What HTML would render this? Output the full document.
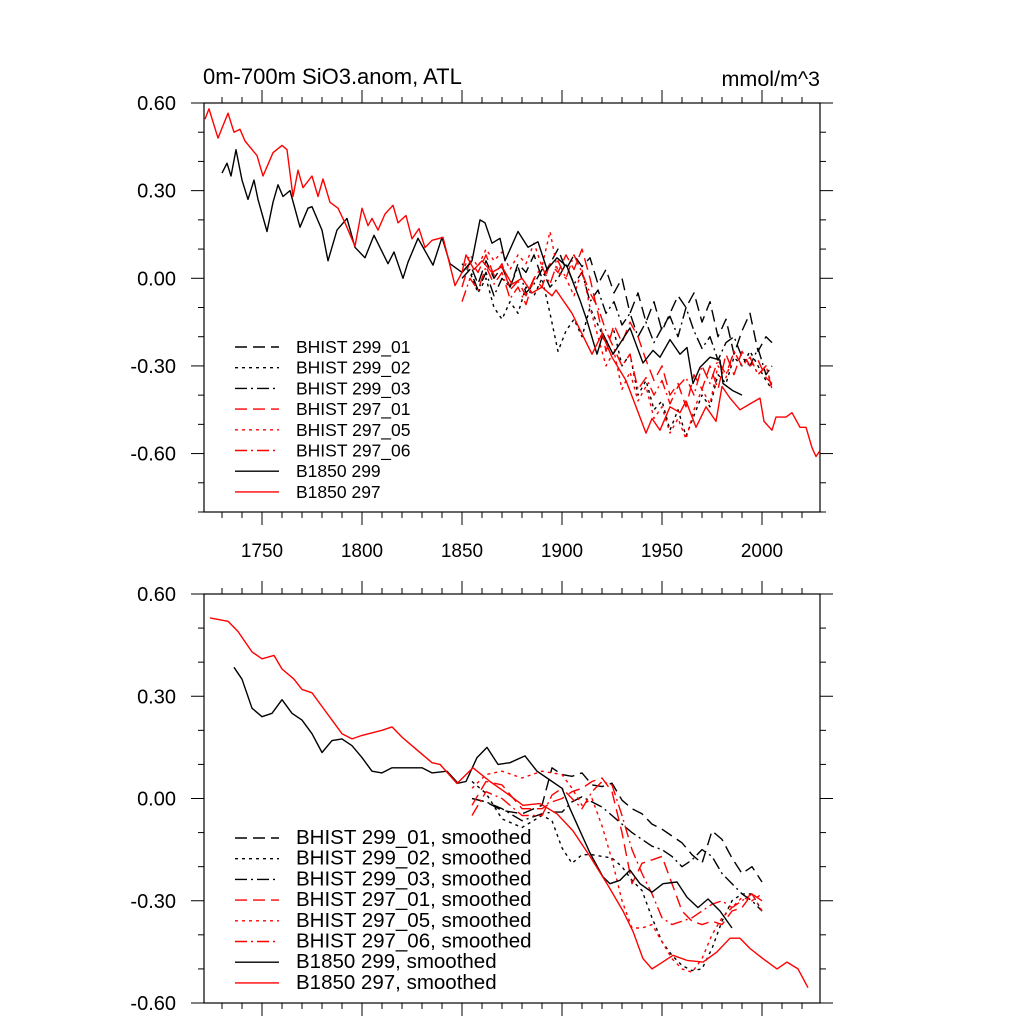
<!DOCTYPE html>
<html><head><meta charset="utf-8"><style>
html,body{margin:0;padding:0;background:#fff;}
svg{display:block;font-family:"Liberation Sans",sans-serif;}
</style></head><body>
<svg id="chart" width="1024" height="1024" xmlns="http://www.w3.org/2000/svg">
<text x="203" y="84" font-size="22">0m-700m SiO3.anom, ATL</text>
<text x="820" y="86" font-size="21.5" text-anchor="end">mmol/m^3</text>
<g id="top"></g>
<g id="bot"></g>
</svg>
<script>
// ---- data ----
const b297Years=[1721.5,1723.5,1728,1733,1736,1739,1741.5,1747.5,1750.5,1755.5,1760,1762.5,1765.5,1768,1770.5,1775,1778,1780.5,1784,1788,1791.5,1796.5,1800,1803,1805,1808,1811.5,1815.5,1818,1822,1825,1828.5,1831.5,1835,1840.5,1846.5,1850,1852,1856,1860,1865,1870,1875,1880,1885,1890,1895,1897,1905,1910,1915,1920,1925,1932,1937,1942,1945,1949,1954,1959,1962,1967,1972,1977,1980,1984,1989,1994,1999,2001,2005,2007,2012,2015,2019,2022,2025,2027,2029];
const b297Vals=[0.545,0.58,0.48,0.565,0.50,0.51,0.47,0.42,0.35,0.43,0.455,0.44,0.28,0.37,0.31,0.35,0.28,0.34,0.26,0.24,0.19,0.11,0.24,0.18,0.205,0.165,0.22,0.25,0.19,0.215,0.135,0.17,0.105,0.13,0.14,-0.025,0.02,0.08,0.03,0.06,0.02,0.04,-0.02,0.0,-0.05,-0.03,-0.06,-0.04,-0.12,-0.19,-0.26,-0.19,-0.27,-0.35,-0.44,-0.53,-0.48,-0.52,-0.44,-0.46,-0.42,-0.51,-0.44,-0.49,-0.37,-0.41,-0.45,-0.43,-0.41,-0.49,-0.52,-0.475,-0.475,-0.46,-0.51,-0.51,-0.58,-0.61,-0.59];
const b299Years=[1730,1732.5,1734.5,1737,1740,1743,1746,1748,1752.5,1755.5,1758,1760.5,1764,1769,1773,1775,1780,1783,1787.5,1792.5,1796.5,1801.5,1806,1813,1816,1820.5,1823,1828,1835.5,1840,1844,1850,1855,1859,1861.5,1865,1869,1871.5,1878,1883,1888,1892.5,1897.5,1902.5,1909,1912.5,1917.5,1920.5,1925.5,1934,1940.5,1945.5,1949,1954,1959,1962.5,1965.5,1969,1974,1979,1980.5,1985.5,1990];
const b299Vals=[0.36,0.394,0.35,0.44,0.336,0.27,0.336,0.27,0.16,0.26,0.32,0.28,0.30,0.175,0.24,0.245,0.165,0.06,0.165,0.205,0.106,0.07,0.147,0.05,0.09,0.0,0.055,0.137,0.045,0.14,0.05,0.02,0.06,0.2,0.19,0.12,0.137,0.06,0.16,0.106,0.125,0.03,0.07,0.04,-0.075,-0.145,-0.26,-0.19,-0.26,-0.17,-0.29,-0.247,-0.27,-0.21,-0.26,-0.237,-0.36,-0.305,-0.27,-0.28,-0.36,-0.385,-0.40];
const histYears=[1850,1854,1858,1862,1866,1870,1874,1878,1882,1886,1890,1894,1898,1902,1906,1910,1914,1918,1922,1926,1930,1934,1938,1942,1946,1950,1954,1958,1962,1966,1970,1974,1978,1982,1986,1990,1994,1998,2002,2005];
const h299_01=[0.02,0.05,-0.02,0.06,0.0,0.04,-0.03,0.05,0.02,0.08,0.0,0.05,0.10,0.03,0.08,0.04,0.07,-0.02,0.03,-0.05,0.0,-0.12,-0.05,-0.15,-0.08,-0.18,-0.12,-0.06,-0.10,-0.05,-0.15,-0.08,-0.20,-0.14,-0.26,-0.18,-0.12,-0.25,-0.20,-0.22];
const h299_02=[0.05,0.02,-0.05,0.0,-0.10,-0.14,-0.08,-0.12,-0.03,-0.06,0.0,-0.12,-0.25,-0.18,-0.14,-0.20,-0.10,-0.16,-0.22,-0.18,-0.30,-0.26,-0.40,-0.35,-0.45,-0.42,-0.52,-0.45,-0.54,-0.47,-0.40,-0.44,-0.33,-0.36,-0.27,-0.30,-0.25,-0.30,-0.35,-0.38];
const h299_03=[0.0,0.03,-0.04,0.02,-0.06,0.0,-0.03,0.04,-0.05,-0.02,0.03,-0.03,0.0,0.05,-0.02,0.02,-0.08,-0.04,-0.12,-0.08,-0.16,-0.12,-0.20,-0.15,-0.22,-0.17,-0.13,-0.20,-0.10,-0.18,-0.24,-0.20,-0.28,-0.22,-0.20,-0.27,-0.30,-0.24,-0.33,-0.30];
const h297_01=[-0.03,0.06,0.02,0.08,0.01,0.05,-0.04,-0.01,-0.06,0.0,-0.03,0.05,0.02,0.08,0.03,0.10,0.0,-0.12,-0.25,-0.16,-0.22,-0.15,-0.20,-0.28,-0.35,-0.30,-0.40,-0.36,-0.44,-0.33,-0.38,-0.30,-0.38,-0.26,-0.33,-0.25,-0.30,-0.28,-0.34,-0.36];
const h297_05=[0.02,0.08,0.04,0.10,0.06,0.09,0.03,0.08,0.05,0.12,0.04,0.16,0.02,0.0,-0.06,0.03,-0.10,-0.20,-0.30,-0.25,-0.38,-0.32,-0.42,-0.37,-0.48,-0.44,-0.53,-0.48,-0.55,-0.45,-0.38,-0.43,-0.30,-0.34,-0.25,-0.30,-0.27,-0.33,-0.30,-0.37];
const h297_06=[-0.08,0.0,-0.04,0.04,-0.02,0.02,-0.07,-0.03,-0.09,0.0,0.04,-0.02,0.06,0.0,0.08,0.02,-0.05,-0.10,-0.18,-0.24,-0.30,-0.26,-0.38,-0.34,-0.40,-0.35,-0.43,-0.37,-0.34,-0.40,-0.30,-0.36,-0.28,-0.33,-0.25,-0.30,-0.27,-0.33,-0.30,-0.38];
// smoothed
const s297Years=[1724,1733,1738,1745,1750,1756,1760,1766,1770,1775,1780,1785,1790,1795,1800,1810,1815,1820,1825,1830,1835,1839,1847.5,1855.5,1864,1872.5,1880.5,1889,1897.5,1905.5,1914,1922.5,1930.5,1935.5,1940.5,1945,1949,1955.5,1962.5,1970.5,1977.5,1984,1989,1994,2000.5,2007.5,2012.5,2018,2023];
const s297Vals=[0.53,0.52,0.49,0.43,0.41,0.42,0.38,0.35,0.32,0.31,0.27,0.23,0.19,0.175,0.185,0.20,0.21,0.18,0.155,0.13,0.105,0.10,0.044,0.09,0.05,0.015,-0.02,-0.015,-0.045,-0.095,-0.17,-0.25,-0.33,-0.39,-0.47,-0.50,-0.485,-0.46,-0.475,-0.48,-0.45,-0.41,-0.41,-0.44,-0.47,-0.50,-0.48,-0.50,-0.555];
const s299Years=[1736,1740,1745,1750,1755,1760,1765,1770,1775,1780,1785,1790,1795,1800,1805,1810,1815,1820,1830,1835,1842.5,1848,1852,1857.5,1862.5,1868,1874,1881.5,1887.5,1892.5,1900,1904,1909,1914,1920.5,1924,1929,1934,1939,1945,1950.5,1957.5,1962.5,1968,1973,1979,1985];
const s299Vals=[0.385,0.35,0.265,0.24,0.25,0.29,0.25,0.23,0.19,0.135,0.17,0.175,0.155,0.12,0.08,0.075,0.09,0.09,0.09,0.075,0.08,0.045,0.05,0.12,0.15,0.10,0.105,0.125,0.08,0.06,0.03,-0.03,-0.095,-0.16,-0.23,-0.25,-0.24,-0.21,-0.25,-0.275,-0.25,-0.245,-0.29,-0.32,-0.295,-0.33,-0.38];
const sYears=[1855,1862,1870,1880,1890,1895,1900,1905,1910,1915,1920,1925,1930,1935,1940,1945,1950,1955,1960,1965,1970,1975,1980,1985,1990,1995,2000];
const s299_01=[0.0,-0.01,-0.035,-0.045,-0.02,0.09,0.07,0.065,0.075,0.04,0.035,0.045,-0.005,-0.03,-0.045,-0.075,-0.09,-0.11,-0.13,-0.165,-0.19,-0.095,-0.12,-0.175,-0.22,-0.20,-0.245];
const s299_02=[0.05,0.015,-0.06,-0.085,-0.05,-0.065,-0.145,-0.19,-0.165,-0.165,-0.17,-0.175,-0.2,-0.24,-0.27,-0.35,-0.42,-0.46,-0.49,-0.505,-0.5,-0.44,-0.36,-0.3,-0.28,-0.28,-0.33];
const s299_03=[0.0,-0.01,-0.03,-0.065,-0.045,-0.04,-0.04,-0.01,0.005,-0.01,-0.025,-0.05,-0.075,-0.1,-0.12,-0.14,-0.15,-0.17,-0.2,-0.18,-0.15,-0.17,-0.22,-0.25,-0.28,-0.30,-0.33];
const s297_01=[-0.02,0.05,0.04,-0.03,-0.03,-0.01,0.0,0.02,0.03,0.05,0.06,0.02,-0.1,-0.25,-0.19,-0.18,-0.17,-0.25,-0.33,-0.36,-0.37,-0.36,-0.37,-0.33,-0.32,-0.28,-0.30];
const s297_05=[0.03,0.07,0.08,0.06,0.08,0.075,0.07,0.03,-0.02,0.0,-0.08,-0.18,-0.3,-0.38,-0.38,-0.37,-0.42,-0.47,-0.50,-0.51,-0.47,-0.40,-0.35,-0.32,-0.29,-0.30,-0.28];
const s297_06=[-0.05,0.02,0.0,-0.05,-0.05,0.01,0.03,0.0,-0.03,0.02,0.05,0.04,-0.05,-0.15,-0.22,-0.28,-0.35,-0.37,-0.36,-0.35,-0.33,-0.31,-0.30,-0.32,-0.30,-0.28,-0.33];
const yTickLabels=["0.60","0.30","0.00","-0.30","-0.60"];
const yTickVals=[0.6,0.3,0,-0.3,-0.6];
const xTickVals=[1750,1800,1850,1900,1950,2000];
const legendTop=["BHIST 299_01","BHIST 299_02","BHIST 299_03","BHIST 297_01","BHIST 297_05","BHIST 297_06","B1850 299","B1850 297"];

const NS="http://www.w3.org/2000/svg";
const X0=204,X1=820,YR0=1721,YR1=2029;
const sx=y=>X0+(y-YR0)*(X1-X0)/(YR1-YR0);
function mk(tag,parent,attrs){const e=document.createElementNS(NS,tag);for(const k in attrs)e.setAttribute(k,attrs[k]);parent.appendChild(e);return e;}
const styles=[
 {c:"#000",d:"12 6"},{c:"#000",d:"3 4"},{c:"#000",d:"12 4 2 4"},
 {c:"#f00",d:"12 6"},{c:"#f00",d:"3 4"},{c:"#f00",d:"12 4 2 4"},
 {c:"#000",d:""},{c:"#f00",d:""}];

function panel(g,top,bot,vTop,vBot,showX,legend,legY,legFont,series,pname){
  const sy=v=>top+(vTop-v)*(bot-top)/(vTop-vBot);
  const fr=mk("rect",g,{x:X0,y:top,width:X1-X0,height:bot-top,fill:"none",stroke:"#000","stroke-width":1.2});
  
  
  for(let yr=1730;yr<=2020;yr+=10){
    const major=yr%50===0,L=major?13:6,x=sx(yr);
    const t1=mk("line",g,{x1:x,x2:x,y1:top,y2:top-L,stroke:"#000","stroke-width":1});
    
    
    const t2=mk("line",g,{x1:x,x2:x,y1:bot,y2:bot+L,stroke:"#000","stroke-width":1});
    
    
  }
  if(showX){xTickVals.forEach(v=>{const t=mk("text",g,{x:sx(v),y:bot+45,"font-size":19,"text-anchor":"middle"});t.textContent=v;
    
    });}
  for(let k=Math.round(vTop*10);k>=Math.round(vBot*10);k--){
    const v=k/10,major=k%3===0,L=major?13:6,y=sy(v);
    const a=mk("line",g,{x1:X0,x2:X0-L,y1:y,y2:y,stroke:"#000","stroke-width":1});
    
    
    const b=mk("line",g,{x1:X1,x2:X1+L,y1:y,y2:y,stroke:"#000","stroke-width":1});
    
    
  }
  yTickVals.forEach((v,i)=>{const t=mk("text",g,{x:176,y:sy(v)+7,"font-size":20,"text-anchor":"end"});t.textContent=yTickLabels[i];
    
    });
  series.forEach((s,i)=>{
    const pts=s.x.map((yr,j)=>sx(yr).toFixed(1)+","+sy(s.y[j]).toFixed(1)).join(" ");
    const p=mk("polyline",g,{points:pts,fill:"none",stroke:styles[i].c,"stroke-width":1.4,"stroke-dasharray":styles[i].d,"stroke-linejoin":"round"});
    
    
  });
  legend.forEach((lab,i)=>{
    const y=legY+i*20.7;
    const l=mk("line",g,{x1:235,x2:279,y1:y,y2:y,stroke:styles[i].c,"stroke-width":1.4,"stroke-dasharray":styles[i].d});
    
    
    const t=mk("text",g,{x:296,y:y+6,"font-size":legFont});t.textContent=lab;
    
    
  });
}
const hist=[h299_01,h299_02,h299_03,h297_01,h297_05,h297_06];
const topSeries=hist.map(a=>({x:histYears,y:a}));
topSeries.push({x:b299Years,y:b299Vals},{x:b297Years,y:b297Vals});
panel(document.getElementById("top"),103,512,0.6,-0.8,true,legendTop,347,17.5,topSeries,'top');
const sm=[s299_01,s299_02,s299_03,s297_01,s297_05,s297_06];
const botSeries=sm.map(a=>({x:sYears,y:a}));
botSeries.push({x:s299Years,y:s299Vals},{x:s297Years,y:s297Vals});
panel(document.getElementById("bot"),594,1003,0.6,-0.6,false,legendTop.map(s=>s+", smoothed"),838,20.5,botSeries,'bottom');
</script>
</body></html>
